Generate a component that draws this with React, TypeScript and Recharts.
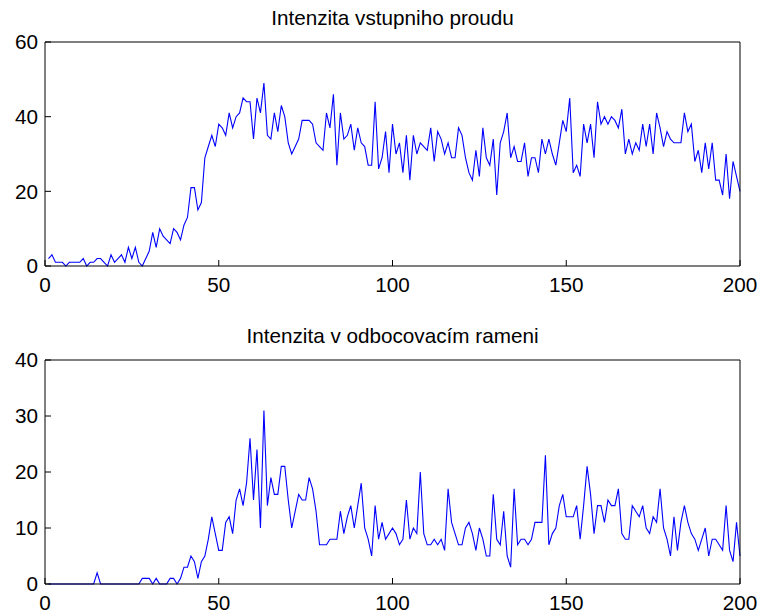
import React from 'react';
import { LineChart, Line, XAxis, YAxis } from 'recharts';

// Intensity of the incoming stream, per time step 1..200
const inflow = [
  2, 3, 1, 1, 1, 0, 1, 1, 1, 1,
  2, 0, 1, 1, 2, 2, 1, 0, 3, 1,
  2, 3, 1, 5, 2, 5, 1, 0, 2, 4,
  9, 5, 10, 8, 7, 6, 10, 9, 7, 11,
  13, 21, 21, 15, 17, 29, 32, 35, 32, 38,
  37, 35, 41, 37, 40, 41, 45, 44, 44, 34,
  45, 41, 49, 35, 34, 41, 36, 43, 40, 33,
  30, 32, 34, 39, 39, 39, 38, 33, 32, 31,
  41, 37, 46, 27, 41, 34, 35, 38, 31, 37,
  33, 32, 27, 27, 44, 26, 29, 36, 25, 38,
  30, 33, 25, 35, 23, 35, 30, 33, 32, 31,
  37, 28, 36, 34, 30, 33, 29, 29, 37, 35,
  29, 25, 23, 31, 24, 37, 29, 27, 34, 19,
  33, 36, 41, 29, 32, 28, 28, 33, 24, 29,
  29, 25, 34, 30, 34, 30, 27, 33, 39, 36,
  45, 25, 27, 24, 38, 33, 38, 29, 44, 38,
  40, 38, 40, 39, 37, 42, 30, 34, 30, 33,
  31, 38, 32, 38, 30, 41, 37, 32, 36, 34,
  33, 33, 33, 41, 36, 38, 28, 31, 25, 33,
  26, 33, 23, 23, 19, 30, 18, 28, 24, 20,
];

// Intensity in the branching arm, per time step 1..200
const branch = [
  0, 0, 0, 0, 0, 0, 0, 0, 0, 0,
  0, 0, 0, 0, 2, 0, 0, 0, 0, 0,
  0, 0, 0, 0, 0, 0, 0, 1, 1, 1,
  0, 1, 0, 0, 0, 1, 1, 0, 1, 3,
  3, 5, 4, 1, 4, 5, 8, 12, 9, 6,
  6, 11, 12, 9, 15, 17, 14, 18, 26, 15,
  24, 10, 31, 14, 19, 16, 16, 21, 21, 15,
  10, 13, 16, 15, 15, 19, 17, 13, 7, 7,
  7, 8, 8, 8, 13, 9, 12, 14, 10, 14,
  18, 10, 8, 5, 14, 8, 11, 8, 9, 10,
  9, 7, 8, 15, 8, 10, 9, 20, 9, 7,
  7, 8, 7, 8, 6, 17, 11, 9, 7, 7,
  10, 11, 9, 6, 10, 8, 5, 5, 16, 8,
  7, 13, 5, 3, 17, 7, 8, 8, 7, 8,
  11, 11, 11, 23, 7, 9, 10, 14, 16, 12,
  12, 12, 14, 8, 14, 21, 16, 9, 14, 14,
  11, 15, 14, 14, 17, 9, 8, 8, 14, 13,
  12, 14, 10, 9, 12, 11, 17, 10, 8, 5,
  12, 6, 11, 14, 11, 9, 8, 6, 8, 10,
  5, 8, 8, 7, 6, 14, 6, 4, 11, 5,
];

const xTicks = [0, 50, 100, 150, 200];
const inflowTicks = [0, 20, 40, 60];
const branchTicks = [0, 10, 20, 30, 40];

const titles = ['Intenzita vstupniho proudu', 'Intenzita v odbocovacím rameni'];

const FONT = '"Liberation Sans", Arial, Helvetica, sans-serif';
const FONT_SIZE = 20.7;
const W = 758;
const H = 297;

type PanelProps = {
  title: string;
  values: number[];
  yTicks: number[];
  top: number;
};

function Panel({ title, values, yTicks, top }: PanelProps) {
  const data = values.map((v, i) => ({ t: i + 1, v }));
  const yMax = yTicks[yTicks.length - 1];
  const tickStyle = { fill: '#000', fontSize: FONT_SIZE, fontFamily: FONT };
  const line = { stroke: '#000', strokeWidth: 1 };
  return (
    <div style={{ position: 'absolute', left: 0, top, width: W, height: H }}>
      <LineChart width={W} height={H} data={data} margin={{ top: 22, right: 0, bottom: 0, left: 0 }}>
        <XAxis
          xAxisId="b"
          dataKey="t"
          type="number"
          domain={[0, 200]}
          ticks={xTicks}
          interval={0}
          height={31}
          tickSize={-6}
          tickMargin={17}
          tick={tickStyle}
          axisLine={line}
          tickLine={line}
        />
        <XAxis
          xAxisId="t"
          dataKey="t"
          type="number"
          orientation="top"
          domain={[0, 200]}
          ticks={xTicks}
          interval={0}
          height={20}
          tickSize={-6}
          tick={false}
          axisLine={line}
          tickLine={line}
        />
        <YAxis
          yAxisId="l"
          type="number"
          domain={[0, yMax]}
          ticks={yTicks}
          interval={0}
          width={45}
          tickSize={-6}
          tickMargin={13}
          tick={tickStyle}
          axisLine={line}
          tickLine={line}
        />
        <YAxis
          yAxisId="r"
          type="number"
          orientation="right"
          domain={[0, yMax]}
          ticks={yTicks}
          interval={0}
          width={18}
          tickSize={-6}
          tick={false}
          axisLine={line}
          tickLine={line}
        />
        <Line
          xAxisId="b"
          yAxisId="l"
          dataKey="v"
          type="linear"
          stroke="#0000ff"
          strokeWidth={1.1}
          dot={false}
          activeDot={false}
          isAnimationActive={false}
        />
      </LineChart>
      <svg
        width={W}
        height={40}
        style={{ position: 'absolute', left: 0, top: 0, pointerEvents: 'none' }}
      >
        <text x={392.5} y={25} textAnchor="middle" fontFamily={FONT} fontSize={FONT_SIZE} fill="#000">
          {title}
        </text>
      </svg>
    </div>
  );
}

export default function App() {
  return (
    <div style={{ position: 'absolute', left: 0, top: 0, width: W, height: 615, background: '#fff', overflow: 'hidden' }}>
      <Panel title={titles[0]} values={inflow} yTicks={inflowTicks} top={0} />
      <Panel title={titles[1]} values={branch} yTicks={branchTicks} top={318} />
    </div>
  );
}
